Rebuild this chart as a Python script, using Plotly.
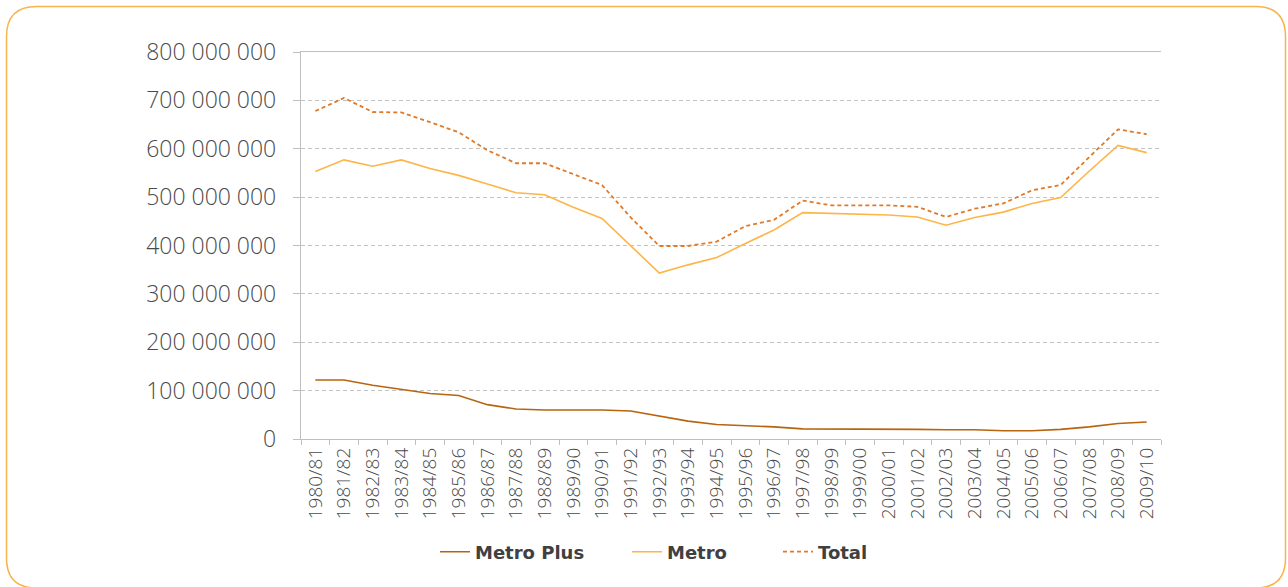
import plotly.graph_objects as go

years = ["1980/81","1981/82","1982/83","1983/84","1984/85","1985/86","1986/87","1987/88",
         "1988/89","1989/90","1990/91","1991/92","1992/93","1993/94","1994/95","1995/96",
         "1996/97","1997/98","1998/99","1999/00","2000/01","2001/02","2002/03","2003/04",
         "2004/05","2005/06","2006/07","2007/08","2008/09","2009/10"]

metro_plus_m = [122,122,111,103,94,90,71,62,60,60,60,58,47,37,30,
                28,25,21,21,21,20,20,19,19,17,17,20,25,32,35]
metro_m = [553,577,564,577,559,545,527,509,505,479,456,400,343,360,375,
           404,432,468,466,465,463,459,442,458,469,487,499,554,607,592]
total_m = [678,705,676,675,655,634,597,570,570,548,525,458,399,399,408,
           440,453,493,483,483,483,480,459,476,487,514,525,583,640,630]

y_tick_vals = [0,100,200,300,400,500,600,700,800]
y_tick_text = ["0","100 000 000","200 000 000","300 000 000","400 000 000",
               "500 000 000","600 000 000","700 000 000","800 000 000"]

M = 1_000_000
W, H = 1288, 587
ML, MR, MT, MB = 301, 127, 52, 148
PW, PH = W - ML - MR, H - MT - MB

def px(X):
    return (X - ML) / PW

def py(Y):
    return (H - MB - Y) / PH

tick_font = dict(family="Open Sans", color="#4A4A4A", weight=300)
leg_font = dict(family="DejaVu Sans", size=18, color="#404040", weight="bold")

fig = go.Figure()
fig.add_trace(go.Scatter(x=years, y=[v * M for v in metro_plus_m], name="Metro Plus",
                         mode="lines", line=dict(color="#B8640F", width=1.6),
                         legend="legend"))
fig.add_trace(go.Scatter(x=years, y=[v * M for v in metro_m], name="Metro",
                         mode="lines", line=dict(color="#FDB547", width=1.6),
                         legend="legend2"))
fig.add_trace(go.Scatter(x=years, y=[v * M for v in total_m], name="Total",
                         mode="lines", line=dict(color="#E07A2B", width=1.8, dash="4px,3px"),
                         legend="legend3"))

# rounded border
L, R, T, B, r = 6.5, 1285.5, 6.5, 588.0, 30
path = (f"M {px(L+r)},{py(T)} L {px(R-r)},{py(T)} Q {px(R)},{py(T)} {px(R)},{py(T+r)} "
        f"L {px(R)},{py(B-r)} Q {px(R)},{py(B)} {px(R-r)},{py(B)} "
        f"L {px(L+r)},{py(B)} Q {px(L)},{py(B)} {px(L)},{py(B-r)} "
        f"L {px(L)},{py(T+r)} Q {px(L)},{py(T)} {px(L+r)},{py(T)} Z")
fig.add_shape(type="path", path=path, xref="paper", yref="paper",
              line=dict(color="#F9B34A", width=1.5), layer="below")

leg_common = dict(orientation="h", yanchor="middle", y=py(552), xanchor="left",
                  font=leg_font, bgcolor="rgba(0,0,0,0)", borderwidth=0)

fig.update_layout(
    width=W, height=H,
    margin=dict(l=ML, r=MR, t=MT, b=MB, autoexpand=False),
    paper_bgcolor="white", plot_bgcolor="white",
    showlegend=True,
    legend=dict(x=px(435), **leg_common),
    legend2=dict(x=px(627), **leg_common),
    legend3=dict(x=px(778), **leg_common),
    xaxis=dict(type="category", showgrid=False, showline=True, linecolor="#BFBFBF",
               linewidth=1.3, mirror=True, ticks="outside", tickson="boundaries",
               ticklen=5, tickcolor="#BFBFBF", tickangle=-90,
               tickfont=dict(size=19, **tick_font), range=[-0.5, 29.5], fixedrange=True),
    yaxis=dict(range=[0, 800 * M], tickvals=[v * M for v in y_tick_vals],
               ticktext=y_tick_text, showgrid=True, gridcolor="#C4C4C4",
               griddash="4px,3px", gridwidth=1, showline=True, linecolor="#BFBFBF",
               linewidth=1.3, ticks="outside", ticklen=7, tickcolor="#BFBFBF",
               ticklabelstandoff=12, zeroline=False,
               tickfont=dict(size=23, **tick_font)),
)

fig.write_html("out.html", config={"displayModeBar": False},
               post_script="document.body.style.margin='0';document.body.style.overflow='hidden';")
